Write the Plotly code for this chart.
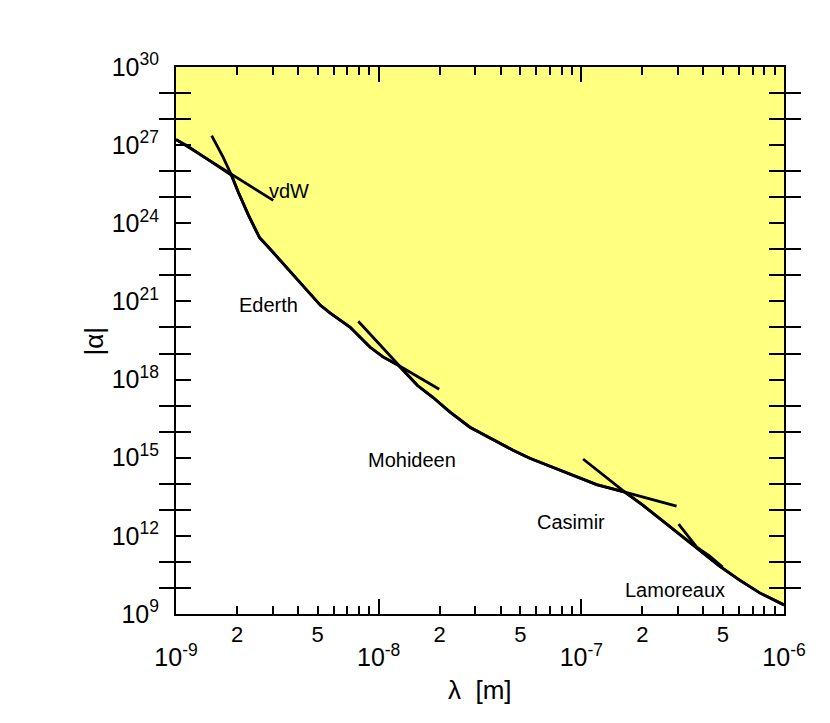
import math
import plotly.graph_objects as go

# ---- data ----
# lower boundary of the excluded (yellow) region
env_lambda = [1.0e-9, 1.13e-9, 1.88e-9, 2.03e-9, 2.28e-9, 2.58e-9, 2.89e-9, 3.50e-9, 4.10e-9,
              5.16e-9, 5.77e-9, 7.24e-9, 9.08e-9, 1.05e-8, 1.25e-8, 1.55e-8, 1.85e-8, 2.25e-8,
              2.82e-8, 3.54e-8, 4.60e-8, 5.57e-8, 7.83e-8, 1.06e-7, 1.19e-7, 1.64e-7, 2.01e-7,
              2.64e-7, 3.43e-7, 4.81e-7, 6.04e-7, 7.59e-7, 1.0e-6]
env_alpha = [1.62e27, 9.77e26, 6.92e25, 1.55e25, 2.0e24, 2.88e23, 1.10e23, 2.04e22, 5.01e21,
             7.08e20, 3.55e20, 1.02e20, 1.74e19, 7.41e18, 3.55e18, 6.03e17, 2.09e17, 5.62e16,
             1.48e16, 5.62e15, 1.95e15, 9.55e14, 3.31e14, 1.38e14, 9.33e13, 4.79e13, 1.51e13,
             2.82e12, 5.75e11, 6.92e10, 2.0e10, 6.46e9, 2.24e9]

vdw_lambda = [1.0e-9, 3.02e-9]
vdw_alpha = [1.66e27, 7.59e24]

ederth_start_lambda = [1.50e-9, 1.71e-9]
ederth_start_alpha = [2.34e27, 3.39e26]
ederth_end_lambda = [1.60e-8, 1.99e-8]
ederth_end_alpha = [1.12e18, 4.27e17]

mohideen_start_lambda = [7.93e-9]
mohideen_start_alpha = [1.74e20]
mohideen_end_lambda = [2.18e-7, 2.95e-7]
mohideen_end_alpha = [2.57e13, 1.38e13]

casimir_start_lambda = [1.02e-7]
casimir_start_alpha = [8.91e14]

lamoreaux_lambda = [3.02e-7, 3.71e-7, 4.30e-7, 4.98e-7]
lamoreaux_alpha = [2.82e12, 3.72e11, 1.66e11, 6.31e10]

# crossing indices on the envelope
I_VDW_EDERTH, I_EDERTH_MOH, I_MOH_CAS = 2, 14, 25

labels = ["vdW", "Ederth", "Mohideen", "Casimir", "Lamoreaux"]
label_lambda = [3.62e-9, 2.86e-9, 1.46e-8, 8.87e-8, 2.89e-7]
label_alpha = [1.8e25, 7.1e20, 8.1e14, 3.4e12, 8.3e9]

decades = (-9, -8, -7)
x_minor_vals = [m * 10.0 ** e for e in decades for m in (3, 4, 6, 7, 8, 9)]
x_mid_vals = [m * 10.0 ** e for e in decades for m in (2, 5)]
x_mid_text = [str(m) for e in decades for m in (2, 5)]
x_major_vals = [1e-9, 1e-8, 1e-7, 1e-6]
x_major_text = ["10<sup>-9</sup>", "10<sup>-8</sup>", "10<sup>-7</sup>", "10<sup>-6</sup>"]
y_minor_vals = [10.0 ** e for e in range(9, 31) if e % 3]
y_major_vals = [10.0 ** e for e in range(9, 31, 3)]
y_major_text = [f"10<sup>{e}</sup>" for e in range(9, 31, 3)]

# ---- build curves from the data ----
ederth_lambda = ederth_start_lambda + env_lambda[I_VDW_EDERTH:I_EDERTH_MOH + 1] + ederth_end_lambda
ederth_alpha = ederth_start_alpha + env_alpha[I_VDW_EDERTH:I_EDERTH_MOH + 1] + ederth_end_alpha
moh_lambda = mohideen_start_lambda + env_lambda[I_EDERTH_MOH:I_MOH_CAS + 1] + mohideen_end_lambda
moh_alpha = mohideen_start_alpha + env_alpha[I_EDERTH_MOH:I_MOH_CAS + 1] + mohideen_end_alpha
cas_lambda = casimir_start_lambda + env_lambda[I_MOH_CAS:]
cas_alpha = casimir_start_alpha + env_alpha[I_MOH_CAS:]

FONT = "Liberation Sans, Arial, sans-serif"
LINE = dict(color="black", width=2.8)

fig = go.Figure()
fig.add_trace(go.Scatter(
    x=env_lambda + [1e-6, 1e-9], y=env_alpha + [1e30, 1e30],
    fill="toself", fillcolor="#FFFF80", line=dict(width=0), mode="lines",
    hoverinfo="skip", showlegend=False))
for xs, ys in [(env_lambda, env_alpha), (vdw_lambda, vdw_alpha), (ederth_lambda, ederth_alpha),
               (moh_lambda, moh_alpha), (cas_lambda, cas_alpha), (lamoreaux_lambda, lamoreaux_alpha)]:
    fig.add_trace(go.Scatter(x=xs, y=ys, mode="lines", line=LINE, showlegend=False))
# invisible carriers so the overlaid tick axes are drawn
for xa, ya in [("x2", "y2"), ("x3", "y")]:
    fig.add_trace(go.Scatter(x=env_lambda, y=env_alpha, xaxis=xa, yaxis=ya, mode="lines",
                             line=dict(width=0, color="rgba(0,0,0,0)"), hoverinfo="skip",
                             showlegend=False))

for t, lx, ly in zip(labels, label_lambda, label_alpha):
    fig.add_annotation(x=math.log10(lx), y=math.log10(ly), text=t, showarrow=False,
                       xanchor="center", yanchor="middle",
                       font=dict(family=FONT, size=20, color="black"))

fig.add_annotation(xref="paper", yref="paper", x=0.5, y=-0.139, text="λ  [m]",
                   xanchor="center", yanchor="middle",
                   showarrow=False, font=dict(family=FONT, size=26, color="black"))
fig.add_annotation(xref="paper", yref="paper", x=-0.135, y=0.5, text="|α|", textangle=-90,
                   xanchor="center", yanchor="middle",
                   showarrow=False, font=dict(family=FONT, size=26, color="black"))

axis_common = dict(type="log", showgrid=False, zeroline=False, showline=True,
                   linecolor="black", linewidth=2, ticks="inside", tickcolor="black",
                   tickwidth=2, mirror="allticks", tickmode="array")

fig.update_layout(
    width=830, height=723, margin=dict(l=168, r=54, t=59, b=117),
    plot_bgcolor="white", paper_bgcolor="white",
    xaxis=dict(**axis_common, range=[-9, -6], tickvals=x_minor_vals, ticklen=8,
               showticklabels=False),
    xaxis2=dict(**axis_common, range=[-9, -6], overlaying="x", anchor="y2", side="bottom",
                tickvals=x_mid_vals, ticktext=x_mid_text, ticklen=8, ticklabelstandoff=0,
                tickfont=dict(family=FONT, size=22, color="black")),
    xaxis3=dict(**axis_common, range=[-9, -6], overlaying="x", anchor="y", side="bottom",
                tickvals=x_major_vals, ticktext=x_major_text, ticklen=15, ticklabelstandoff=20,
                tickfont=dict(family=FONT, size=25, color="black")),
    yaxis=dict(**axis_common, range=[9, 30], tickvals=y_minor_vals, ticklen=15,
               showticklabels=False),
    yaxis2=dict(**axis_common, range=[9, 30], overlaying="y", anchor="x", side="left",
                tickvals=y_major_vals, ticktext=y_major_text, ticklen=15,
                ticklabelstandoff=10, tickfont=dict(family=FONT, size=25, color="black")),
)
fig.write_html("out.html")
